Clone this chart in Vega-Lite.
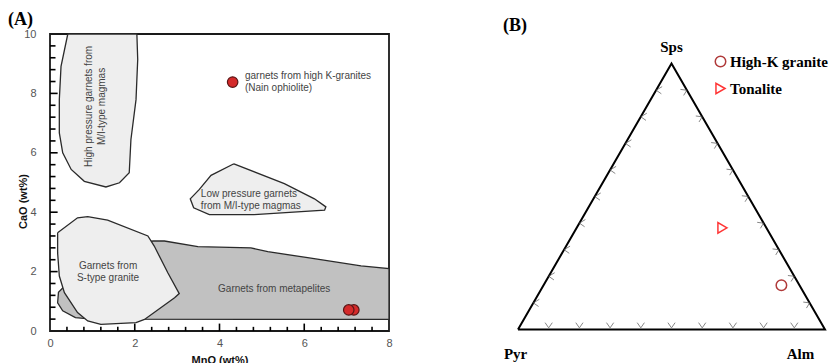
{
  "$schema": "https://vega.github.io/schema/vega-lite/v6.json",
  "background": "white",
  "padding": {"left": 7, "top": 10, "right": 0, "bottom": 0},
  "spacing": 129,
  "bounds": "flush",
  "config": {"font": "Liberation Sans"},
  "datasets": {
    "polys": [
      {"region": "meta", "ord": 0, "x": 0.30, "y": 1.45},
      {"region": "meta", "ord": 1, "x": 0.20, "y": 1.30},
      {"region": "meta", "ord": 2, "x": 0.18, "y": 0.95},
      {"region": "meta", "ord": 3, "x": 0.30, "y": 0.68},
      {"region": "meta", "ord": 4, "x": 0.60, "y": 0.45},
      {"region": "meta", "ord": 5, "x": 1.00, "y": 0.40},
      {"region": "meta", "ord": 6, "x": 8.00, "y": 0.39},
      {"region": "meta", "ord": 7, "x": 8.00, "y": 2.10},
      {"region": "meta", "ord": 8, "x": 7.34, "y": 2.19},
      {"region": "meta", "ord": 9, "x": 6.08, "y": 2.47},
      {"region": "meta", "ord": 10, "x": 5.14, "y": 2.67},
      {"region": "meta", "ord": 11, "x": 4.74, "y": 2.80},
      {"region": "meta", "ord": 12, "x": 3.49, "y": 2.84},
      {"region": "meta", "ord": 13, "x": 2.70, "y": 3.03},
      {"region": "meta", "ord": 14, "x": 2.44, "y": 3.03},
      {"region": "meta", "ord": 15, "x": 1.00, "y": 2.80},
      {"region": "meta", "ord": 16, "x": 0.30, "y": 1.45}
    ],
    "light": [
      {"region": "hp", "ord": 0, "x": 0.42, "y": 10.0},
      {"region": "hp", "ord": 1, "x": 0.26, "y": 8.91},
      {"region": "hp", "ord": 2, "x": 0.22, "y": 7.79},
      {"region": "hp", "ord": 3, "x": 0.22, "y": 6.67},
      {"region": "hp", "ord": 4, "x": 0.30, "y": 6.0},
      {"region": "hp", "ord": 5, "x": 0.50, "y": 5.44},
      {"region": "hp", "ord": 6, "x": 0.81, "y": 5.04},
      {"region": "hp", "ord": 7, "x": 1.32, "y": 4.85},
      {"region": "hp", "ord": 8, "x": 1.64, "y": 4.99},
      {"region": "hp", "ord": 9, "x": 1.87, "y": 5.33},
      {"region": "hp", "ord": 10, "x": 1.91, "y": 6.45},
      {"region": "hp", "ord": 11, "x": 2.03, "y": 7.79},
      {"region": "hp", "ord": 12, "x": 2.07, "y": 9.14},
      {"region": "hp", "ord": 13, "x": 2.05, "y": 10.0},
      {"region": "hp", "ord": 14, "x": 0.42, "y": 10.0},
      {"region": "lp", "ord": 0, "x": 4.34, "y": 5.63},
      {"region": "lp", "ord": 1, "x": 3.80, "y": 5.24},
      {"region": "lp", "ord": 2, "x": 3.52, "y": 4.76},
      {"region": "lp", "ord": 3, "x": 3.31, "y": 4.45},
      {"region": "lp", "ord": 4, "x": 3.39, "y": 4.15},
      {"region": "lp", "ord": 5, "x": 3.76, "y": 3.92},
      {"region": "lp", "ord": 6, "x": 4.82, "y": 3.92},
      {"region": "lp", "ord": 7, "x": 6.48, "y": 4.07},
      {"region": "lp", "ord": 8, "x": 6.51, "y": 4.18},
      {"region": "lp", "ord": 9, "x": 6.24, "y": 4.45},
      {"region": "lp", "ord": 10, "x": 5.53, "y": 4.96},
      {"region": "lp", "ord": 11, "x": 4.34, "y": 5.63},
      {"region": "st", "ord": 0, "x": 0.18, "y": 3.31},
      {"region": "st", "ord": 1, "x": 0.65, "y": 3.81},
      {"region": "st", "ord": 2, "x": 0.89, "y": 3.85},
      {"region": "st", "ord": 3, "x": 1.36, "y": 3.73},
      {"region": "st", "ord": 4, "x": 2.31, "y": 3.20},
      {"region": "st", "ord": 5, "x": 2.46, "y": 2.86},
      {"region": "st", "ord": 6, "x": 2.78, "y": 1.96},
      {"region": "st", "ord": 7, "x": 3.05, "y": 1.26},
      {"region": "st", "ord": 8, "x": 2.94, "y": 1.12},
      {"region": "st", "ord": 9, "x": 2.23, "y": 0.39},
      {"region": "st", "ord": 10, "x": 2.03, "y": 0.28},
      {"region": "st", "ord": 11, "x": 1.20, "y": 0.22},
      {"region": "st", "ord": 12, "x": 0.89, "y": 0.34},
      {"region": "st", "ord": 13, "x": 0.65, "y": 0.62},
      {"region": "st", "ord": 14, "x": 0.34, "y": 1.29},
      {"region": "st", "ord": 15, "x": 0.22, "y": 1.85},
      {"region": "st", "ord": 16, "x": 0.18, "y": 2.63},
      {"region": "st", "ord": 17, "x": 0.18, "y": 3.31}
    ],
    "garnets": [
      {"x": 4.31, "y": 8.38},
      {"x": 7.17, "y": 0.71},
      {"x": 7.05, "y": 0.71}
    ],
    "labelsLeft": [
      {"x": 4.60, "y": 8.58, "t": "garnets from high K-granites"},
      {"x": 4.60, "y": 8.19, "t": "(Nain ophiolite)"},
      {"x": 3.56, "y": 4.60, "t": "Low pressure garnets"},
      {"x": 3.56, "y": 4.21, "t": "from M/I-type magmas"}
    ],
    "labelsCenter": [
      {"x": 1.37, "y": 2.18, "t": "Garnets from"},
      {"x": 1.37, "y": 1.80, "t": "S-type granite"},
      {"x": 5.29, "y": 1.40, "t": "Garnets from metapelites"}
    ],
    "labelsRot": [
      {"x": 0.92, "y": 7.56, "t": "High pressure garnets from"},
      {"x": 1.22, "y": 7.56, "t": "M/I-type magmas"}
    ],
    "ticksX": [
      {"x": 0.4, "y": 0, "y2": 0.14}, {"x": 0.8, "y": 0, "y2": 0.14}, {"x": 1.2, "y": 0, "y2": 0.14}, {"x": 1.6, "y": 0, "y2": 0.14},
      {"x": 2.0, "y": 0, "y2": 0.25},
      {"x": 2.4, "y": 0, "y2": 0.14}, {"x": 2.8, "y": 0, "y2": 0.14}, {"x": 3.2, "y": 0, "y2": 0.14}, {"x": 3.6, "y": 0, "y2": 0.14},
      {"x": 4.0, "y": 0, "y2": 0.25},
      {"x": 4.4, "y": 0, "y2": 0.14}, {"x": 4.8, "y": 0, "y2": 0.14}, {"x": 5.2, "y": 0, "y2": 0.14}, {"x": 5.6, "y": 0, "y2": 0.14},
      {"x": 6.0, "y": 0, "y2": 0.25},
      {"x": 6.4, "y": 0, "y2": 0.14}, {"x": 6.8, "y": 0, "y2": 0.14}, {"x": 7.2, "y": 0, "y2": 0.14}, {"x": 7.6, "y": 0, "y2": 0.14}
    ],
    "ticksY": [
      {"x": 0, "x2": 0.13, "y": 0.4}, {"x": 0, "x2": 0.13, "y": 0.8}, {"x": 0, "x2": 0.13, "y": 1.2}, {"x": 0, "x2": 0.13, "y": 1.6},
      {"x": 0, "x2": 0.18, "y": 2.0},
      {"x": 0, "x2": 0.13, "y": 2.4}, {"x": 0, "x2": 0.13, "y": 2.8}, {"x": 0, "x2": 0.13, "y": 3.2}, {"x": 0, "x2": 0.13, "y": 3.6},
      {"x": 0, "x2": 0.18, "y": 4.0},
      {"x": 0, "x2": 0.13, "y": 4.4}, {"x": 0, "x2": 0.13, "y": 4.8}, {"x": 0, "x2": 0.13, "y": 5.2}, {"x": 0, "x2": 0.13, "y": 5.6},
      {"x": 0, "x2": 0.18, "y": 6.0},
      {"x": 0, "x2": 0.13, "y": 6.4}, {"x": 0, "x2": 0.13, "y": 6.8}, {"x": 0, "x2": 0.13, "y": 7.2}, {"x": 0, "x2": 0.13, "y": 7.6},
      {"x": 0, "x2": 0.18, "y": 8.0},
      {"x": 0, "x2": 0.13, "y": 8.4}, {"x": 0, "x2": 0.13, "y": 8.8}, {"x": 0, "x2": 0.13, "y": 9.2}, {"x": 0, "x2": 0.13, "y": 9.6}
    ],
    "tri": [
      {"ord": 0, "x": 0, "y": 0},
      {"ord": 1, "x": 0.5, "y": 0.866},
      {"ord": 2, "x": 1, "y": 0},
      {"ord": 3, "x": 0, "y": 0}
    ],
    "tickBottom": [
      {"x": 0.1, "y": 0}, {"x": 0.2, "y": 0}, {"x": 0.3, "y": 0},
      {"x": 0.4, "y": 0}, {"x": 0.5, "y": 0}, {"x": 0.6, "y": 0},
      {"x": 0.7, "y": 0}, {"x": 0.8, "y": 0}, {"x": 0.9, "y": 0}
    ],
    "tickLeft": [
      {"x": 0.05, "y": 0.0866}, {"x": 0.10, "y": 0.1732}, {"x": 0.15, "y": 0.2598},
      {"x": 0.20, "y": 0.3464}, {"x": 0.25, "y": 0.4330}, {"x": 0.30, "y": 0.5196},
      {"x": 0.35, "y": 0.6062}, {"x": 0.40, "y": 0.6928}, {"x": 0.45, "y": 0.7794}
    ],
    "tickRight": [
      {"x": 0.95, "y": 0.0866}, {"x": 0.90, "y": 0.1732}, {"x": 0.85, "y": 0.2598},
      {"x": 0.80, "y": 0.3464}, {"x": 0.75, "y": 0.4330}, {"x": 0.70, "y": 0.5196},
      {"x": 0.65, "y": 0.6062}, {"x": 0.60, "y": 0.6928}, {"x": 0.55, "y": 0.7794}
    ],
    "samples": [
      {"type": "High-K granite", "x": 0.858, "y": 0.144},
      {"type": "Tonalite", "x": 0.666, "y": 0.331}
    ],
    "vertices": [
      {"x": 0.5, "y": 0.919, "t": "Sps"},
      {"x": -0.008, "y": -0.081, "t": "Pyr"},
      {"x": 0.92, "y": -0.081, "t": "Alm"}
    ]
  },
  "hconcat": [
    {
      "width": 339,
      "height": 297,
      "title": {"text": "(A)", "anchor": "start", "frame": "group", "font": "Liberation Serif", "fontSize": 18, "fontWeight": "bold", "color": "#000", "dx": -42, "offset": -15, "baseline": "alphabetic"},
      "view": {"stroke": "#1a1a1a", "strokeWidth": 1.8},
      "encoding": {
        "x": {"field": "x", "type": "quantitative", "scale": {"domain": [0, 8], "nice": false},
          "axis": {"title": "MnO (wt%)", "values": [0, 2, 4, 6, 8], "format": "d",
            "labelOverlap": false, "ticks": false, "tickSize": 0, "domain": false,
            "grid": false, "labelFontSize": 11, "labelColor": "#555", "labelPadding": 6, "labelFlush": false,
            "titleFontSize": 11, "titleFontWeight": "bold", "titleColor": "#111", "titlePadding": 6}},
        "y": {"field": "y", "type": "quantitative", "scale": {"domain": [0, 10], "nice": false},
          "axis": {"title": "CaO (wt%)", "values": [0, 2, 4, 6, 8, 10], "format": "d",
            "labelOverlap": false, "ticks": false, "tickSize": 0, "domain": false,
            "grid": false, "labelFontSize": 11, "labelColor": "#555", "labelPadding": 14, "labelFlush": false,
            "titleFontSize": 11, "titleFontWeight": "bold", "titleColor": "#111", "titleX": -22, "titleY": 167}}
      },
      "layer": [
        {
          "data": {"name": "polys"},
          "mark": {"type": "line", "fill": "#c1c1c1", "stroke": "#2a2a2a", "strokeWidth": 1.3},
          "encoding": {
            "order": {"field": "ord", "type": "quantitative"}
          }
        },
        {
          "data": {"name": "light"},
          "mark": {"type": "line", "fill": "#eeeeee", "stroke": "#2a2a2a", "strokeWidth": 1.3},
          "encoding": {
            "detail": {"field": "region"},
            "order": {"field": "ord", "type": "quantitative"}
          }
        },
        {
          "data": {"name": "ticksX"},
          "mark": {"type": "rule", "stroke": "#000", "strokeWidth": 1.6, "opacity": 1},
          "encoding": {"y2": {"field": "y2"}}
        },
        {
          "data": {"name": "ticksY"},
          "mark": {"type": "rule", "stroke": "#000", "strokeWidth": 1.6, "opacity": 1},
          "encoding": {"x2": {"field": "x2"}}
        },
        {
          "data": {"name": "garnets"},
          "mark": {"type": "circle", "size": 110, "fill": "#d42a2a", "stroke": "#5a1515", "strokeWidth": 1.2, "opacity": 1},
          "encoding": {}
        },
        {
          "data": {"name": "labelsLeft"},
          "mark": {"type": "text", "align": "left", "baseline": "middle", "fontSize": 10, "color": "#444"},
          "encoding": {"text": {"field": "t"}}
        },
        {
          "data": {"name": "labelsCenter"},
          "mark": {"type": "text", "align": "center", "baseline": "middle", "fontSize": 10, "color": "#444"},
          "encoding": {"text": {"field": "t"}}
        },
        {
          "data": {"name": "labelsRot"},
          "mark": {"type": "text", "align": "center", "baseline": "middle", "angle": 270, "fontSize": 10, "color": "#444"},
          "encoding": {"text": {"field": "t"}}
        }
      ]
    },
    {
      "width": 307,
      "height": 297,
      "title": {"text": "(B)", "anchor": "start", "frame": "group", "font": "Liberation Serif", "fontSize": 18, "fontWeight": "bold", "color": "#000", "dx": -15, "offset": -15, "baseline": "alphabetic"},
      "view": {"stroke": null},
      "resolve": {"scale": {"shape": "independent", "stroke": "independent"}},
      "encoding": {
        "x": {"field": "x", "type": "quantitative", "scale": {"domain": [0, 1], "nice": false, "zero": false}, "axis": null},
        "y": {"field": "y", "type": "quantitative", "scale": {"domain": [-0.005, 0.9625], "nice": false, "zero": false}, "axis": null}
      },
      "layer": [
        {
          "data": {"name": "tri"},
          "mark": {"type": "line", "stroke": "#000", "strokeWidth": 2},
          "encoding": {"order": {"field": "ord", "type": "quantitative"}}
        },
        {
          "data": {"name": "tickBottom"},
          "mark": {"type": "point", "shape": "M-0.9,-1.7L0,-0.4L0.9,-1.7", "size": 64, "filled": false, "stroke": "#555", "strokeWidth": 1},
          "encoding": {}
        },
        {
          "data": {"name": "tickLeft"},
          "mark": {"type": "point", "shape": "M1.5,-0.9L0,0L1.3,0.9", "size": 64, "filled": false, "stroke": "#555", "strokeWidth": 1},
          "encoding": {}
        },
        {
          "data": {"name": "tickRight"},
          "mark": {"type": "point", "shape": "M-1.6,-0.2L0,0L-0.8,1.3", "size": 64, "filled": false, "stroke": "#555", "strokeWidth": 1},
          "encoding": {}
        },
        {
          "data": {"name": "samples"},
          "mark": {"type": "point", "size": 110, "filled": false, "strokeWidth": 1.5, "opacity": 1},
          "encoding": {
            "shape": {"field": "type", "type": "nominal", "scale": {"domain": ["High-K granite", "Tonalite"], "range": ["circle", "triangle-right"]},
              "legend": {"title": null, "orient": "none", "legendX": 195, "legendY": 20, "labelFont": "Liberation Serif", "labelFontSize": 15, "labelFontWeight": "bold", "labelColor": "#000", "labelOffset": 2, "rowPadding": 10, "symbolStrokeWidth": 1.5, "symbolSize": 110}},
            "stroke": {"field": "type", "type": "nominal", "scale": {"domain": ["High-K granite", "Tonalite"], "range": ["#b03a3a", "#ff3535"]}, "legend": null}
          }
        },
        {
          "data": {"name": "vertices"},
          "mark": {"type": "text", "align": "center", "baseline": "middle", "font": "Liberation Serif", "fontSize": 15, "fontWeight": "bold", "color": "#000"},
          "encoding": {"text": {"field": "t"}}
        }
      ]
    }
  ]
}
